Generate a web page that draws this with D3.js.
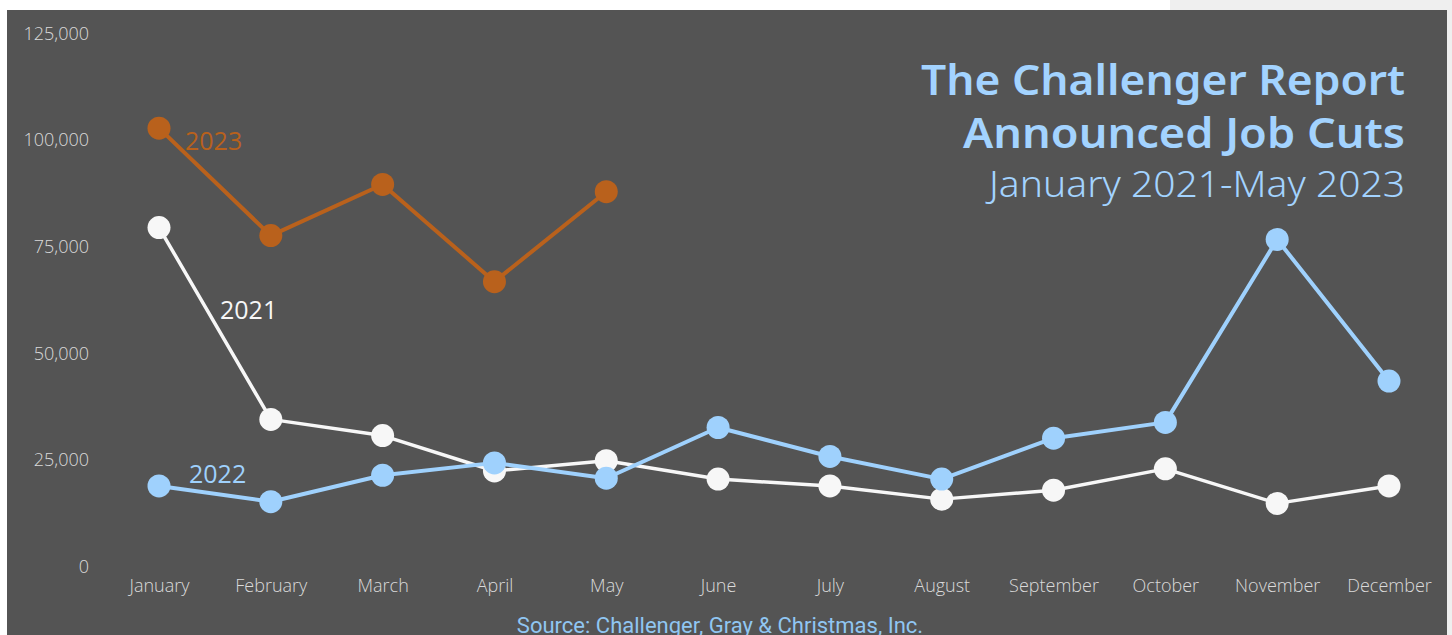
<!DOCTYPE html>
<html>
<head>
<meta charset="utf-8">
<script src="https://cdn.jsdelivr.net/npm/d3@7"></script>
<style>
  html, body { margin: 0; padding: 0; background: #ffffff; }
  svg { display: block; }
</style>
</head>
<body>
<svg id="chart" width="1452" height="635"></svg>
<script>
const months = ["January","February","March","April","May","June","July","August","September","October","November","December"];
const yTicks = [0, 25000, 50000, 75000, 100000, 125000];
const values2021 = [79500, 34500, 30700, 22400, 24800, 20500, 18900, 15800, 17900, 22900, 14800, 18900];
const values2022 = [18900, 15200, 21400, 24300, 20700, 32600, 25800, 20500, 30100, 33800, 76700, 43500];
const values2023 = [102800, 77600, 89600, 66800, 87900];
const titleLines = ["The Challenger Report", "Announced Job Cuts", "January 2021-May 2023"];
const sourceText = "Source: Challenger, Gray & Christmas, Inc.";

const svg = d3.select("#chart");
const W = 1452, H = 635;

// backgrounds
svg.append("rect").attr("x", 1170).attr("y", 0).attr("width", W - 1170).attr("height", H).attr("fill", "#efefef");
svg.append("rect").attr("x", 7).attr("y", 10).attr("width", 1440).attr("height", H - 10).attr("fill", "#545454");

const x = d3.scalePoint().domain(months).range([159, 1389]);
const y = d3.scaleLinear().domain([0, 125000]).range([566.5, 33.5]);

const tickFont = sel => sel.attr("fill", "#dadada")
  .style("font-family", "'Open Sans'")
  .style("font-weight", 300)
  .style("font-size", "18px");

// y axis
const yAxis = svg.append("g").attr("transform", "translate(89,0)")
  .call(d3.axisLeft(y).tickValues(yTicks).tickFormat(d3.format(",")).tickSize(0).tickPadding(0));
yAxis.select(".domain").remove();
yAxis.selectAll("text").call(tickFont);

// x axis
const xAxis = svg.append("g").attr("transform", "translate(0,579)")
  .call(d3.axisBottom(x).tickSize(0).tickPadding(0));
xAxis.select(".domain").remove();
xAxis.selectAll("text").call(tickFont);

const series = [
  { name: "2021", values: values2021, color: "#f7f7f7", width: 3.5 },
  { name: "2022", values: values2022, color: "#9fd1fd", width: 4 },
  { name: "2023", values: values2023, color: "#b9611c", width: 4 }
];

const line = d3.line().x((d, i) => x(months[i])).y(d => y(d));

series.forEach(s => {
  const g = svg.append("g");
  g.append("path").datum(s.values)
    .attr("d", line)
    .attr("fill", "none")
    .attr("stroke", s.color)
    .attr("stroke-width", s.width)
    .attr("stroke-linejoin", "round");
  g.selectAll("circle").data(s.values).join("circle")
    .attr("cx", (d, i) => x(months[i]))
    .attr("cy", d => y(d))
    .attr("r", 11.5)
    .attr("fill", s.color);
});

// series labels
const labelStyle = sel => sel.style("font-family", "'Open Sans'").style("font-size", "25px").style("font-weight", 400);
svg.append("text").text("2023").attr("x", 185).attr("y", 150).attr("fill", "#b9611c").call(labelStyle);
svg.append("text").text("2021").attr("x", 220).attr("y", 319).attr("fill", "#f7f7f7").call(labelStyle);
svg.append("text").text("2022").attr("x", 189).attr("y", 483).attr("fill", "#9fd1fd").call(labelStyle);

// title
const titleColor = "#a3d3ff";
svg.append("text").text(titleLines[0]).attr("x", 1405).attr("y", 95).attr("text-anchor", "end")
  .attr("textLength", 484).attr("lengthAdjust", "spacingAndGlyphs")
  .attr("fill", titleColor).style("font-family", "'Noto Sans'").style("font-weight", 600).style("font-size", "42px");
svg.append("text").text(titleLines[1]).attr("x", 1405).attr("y", 148).attr("text-anchor", "end")
  .attr("textLength", 442).attr("lengthAdjust", "spacingAndGlyphs")
  .attr("fill", titleColor).style("font-family", "'Noto Sans'").style("font-weight", 600).style("font-size", "42px");
svg.append("text").text(titleLines[2]).attr("x", 1405).attr("y", 197).attr("text-anchor", "end")
  .attr("textLength", 416).attr("lengthAdjust", "spacingAndGlyphs")
  .attr("fill", titleColor).style("font-family", "'Noto Sans'").style("font-weight", 300).style("font-size", "36px");

// source
svg.append("text").text(sourceText).attr("x", 720).attr("y", 633).attr("text-anchor", "middle")
  .attr("fill", "#90c6f2").style("font-family", "Roboto").style("font-size", "22px");
</script>
</body>
</html>
